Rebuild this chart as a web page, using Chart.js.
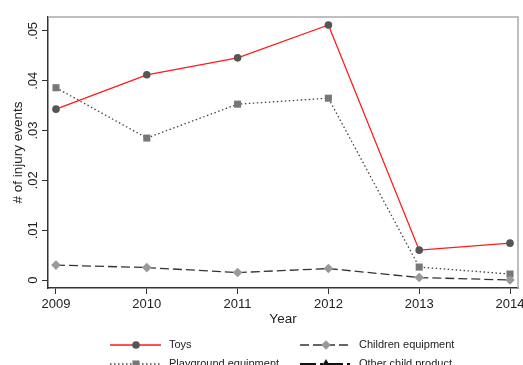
<!DOCTYPE html>
<html>
<head>
<meta charset="utf-8">
<script src="https://cdn.jsdelivr.net/npm/chart.js@4/dist/chart.umd.min.js"></script>
<style>
html,body{margin:0;padding:0;background:#fff;}
canvas{display:block;}
</style>
</head>
<body>
<canvas id="c" width="523" height="365"></canvas>
<script>
const years = [2009, 2010, 2011, 2012, 2013, 2014];
const toys = [0.0343, 0.0412, 0.0446, 0.0512, 0.0060, 0.0074];
const childrenEquipment = [0.0030, 0.0025, 0.0015, 0.0023, 0.0005, 0.0000];
const playground = [0.0386, 0.0285, 0.0353, 0.0365, 0.0026, 0.0012];
const otherChild = [null, null, null, null, null, null];
const yTicks = [0, 0.01, 0.02, 0.03, 0.04, 0.05];
const yTickLabels = ['0', '.01', '.02', '.03', '.04', '.05'];
const seriesNames = ['Toys', 'Children equipment', 'Playground equipment', 'Other child product'];

const FONT = 'Liberation Sans, Arial, sans-serif';

const pts = arr => arr.map((v, i) => ({x: years[i], y: v}));

function drawMarker(ctx, style, x, y, r, color) {
  ctx.save();
  ctx.fillStyle = color;
  ctx.beginPath();
  if (style === 'circle') {
    ctx.arc(x, y, r, 0, Math.PI * 2);
  } else if (style === 'rect') {
    const s = r * Math.SQRT1_2;
    ctx.rect(x - s, y - s, 2 * s, 2 * s);
  } else if (style === 'rectRot') {
    ctx.moveTo(x - r, y); ctx.lineTo(x, y - r); ctx.lineTo(x + r, y); ctx.lineTo(x, y + r); ctx.closePath();
  } else if (style === 'triangle') {
    ctx.moveTo(x, y - r); ctx.lineTo(x + r, y + r * 0.7); ctx.lineTo(x - r, y + r * 0.7); ctx.closePath();
  }
  ctx.fill();
  ctx.restore();
}

const framePlugin = {
  id: 'frame',
  beforeDatasetsDraw(chart) {
    const {ctx, chartArea: a} = chart;
    ctx.save();
    ctx.strokeStyle = '#aaaaaa';
    ctx.lineWidth = 1.5;
    ctx.beginPath();
    ctx.moveTo(a.left, a.top); ctx.lineTo(a.right, a.top); ctx.lineTo(a.right, a.bottom);
    ctx.stroke();
    ctx.restore();
  },
  afterDraw(chart) {
    const {ctx} = chart;
    const ys = chart.scales.y;
    ctx.save();
    ctx.fillStyle = '#222';
    ctx.font = '13px ' + FONT;
    ctx.textAlign = 'center';
    ctx.textBaseline = 'middle';
    yTicks.forEach((v, i) => {
      const py = ys.getPixelForValue(v);
      ctx.save();
      ctx.translate(33, py);
      ctx.rotate(-Math.PI / 2);
      ctx.fillText(yTickLabels[i], 0, 0);
      ctx.restore();
    });
    // legend
    const cols = [{lx: 110, tx: 169}, {lx: 300, tx: 359}];
    const rows = [345, 364];
    ctx.font = '11px ' + FONT;
    ctx.textAlign = 'left';
    chart.data.datasets.forEach((ds, i) => {
      const c = cols[i % 2], ry = rows[Math.floor(i / 2)];
      ctx.save();
      ctx.strokeStyle = ds.borderColor;
      ctx.lineWidth = ds.borderWidth;
      ctx.setLineDash(ds.borderDash || []);
      ctx.beginPath();
      ctx.moveTo(c.lx, ry); ctx.lineTo(c.lx + 51, ry);
      ctx.stroke();
      ctx.restore();
      drawMarker(ctx, ds.pointStyle, c.lx + 26, ry, ds.pointRadius, ds.pointBackgroundColor);
      ctx.fillStyle = '#222';
      ctx.fillText(ds.label, c.tx, ry);
    });
    ctx.restore();
  }
};

new Chart(document.getElementById('c'), {
  type: 'line',
  data: {
    datasets: [
      {label: seriesNames[0], data: pts(toys), borderColor: '#ff1a1a', borderWidth: 1.3, borderDash: [],
       pointStyle: 'circle', pointRadius: 3.8, pointBackgroundColor: '#555555', pointBorderWidth: 0, pointBorderColor: '#555555'},
      {label: seriesNames[1], data: pts(childrenEquipment), borderColor: '#333333', borderWidth: 1.3, borderDash: [9, 4],
       pointStyle: 'rectRot', pointRadius: 4.8, pointBackgroundColor: '#999999', pointBorderWidth: 0, pointBorderColor: '#999999'},
      {label: seriesNames[2], data: pts(playground), borderColor: '#444444', borderWidth: 1.3, borderDash: [1.5, 2.5],
       pointStyle: 'rect', pointRadius: 5, pointBackgroundColor: '#777777', pointBorderWidth: 0, pointBorderColor: '#777777'},
      {label: seriesNames[3], data: pts(otherChild), borderColor: '#111111', borderWidth: 2, borderDash: [16, 4, 3, 4],
       pointStyle: 'triangle', pointRadius: 5, pointBackgroundColor: '#111111', pointBorderWidth: 0, pointBorderColor: '#111111'}
    ]
  },
  options: {
    responsive: false,
    animation: false,
    layout: {padding: {top: 17, right: 4, left: 0, bottom: 0}},
    plugins: {legend: {display: false}, tooltip: {enabled: false}},
    elements: {line: {tension: 0}},
    scales: {
      x: {
        type: 'linear',
        min: 2008.912, max: 2014.088,
        afterBuildTicks: s => { s.ticks = years.map(v => ({value: v})); },
        afterFit: s => { s.height = 77; s.paddingLeft = 0; s.paddingRight = 0; },
        ticks: {callback: v => String(v), color: '#222', font: {family: FONT, size: 13}, padding: 3, maxRotation: 0, autoSkip: false},
        grid: {drawOnChartArea: false, tickLength: 6, color: '#333', tickWidth: 1},
        border: {color: '#333', width: 1.5},
        title: {display: true, text: 'Year', color: '#222', font: {family: FONT, size: 13.5}, padding: {top: 0, bottom: 38}}
      },
      y: {
        min: -0.0016, max: 0.0528,
        afterBuildTicks: s => { s.ticks = yTicks.map(v => ({value: v})); },
        afterFit: s => { s.width = 48; s.paddingTop = 0; s.paddingBottom = 0; },
        ticks: {display: false},
        grid: {drawOnChartArea: false, tickLength: 6, color: '#333', tickWidth: 1},
        border: {color: '#333', width: 1.5},
        title: {display: true, text: '# of injury events', color: '#222', font: {family: FONT, size: 13.5}, padding: {top: 10, bottom: 0}}
      }
    }
  },
  plugins: [framePlugin]
});
</script>
</body>
</html>
